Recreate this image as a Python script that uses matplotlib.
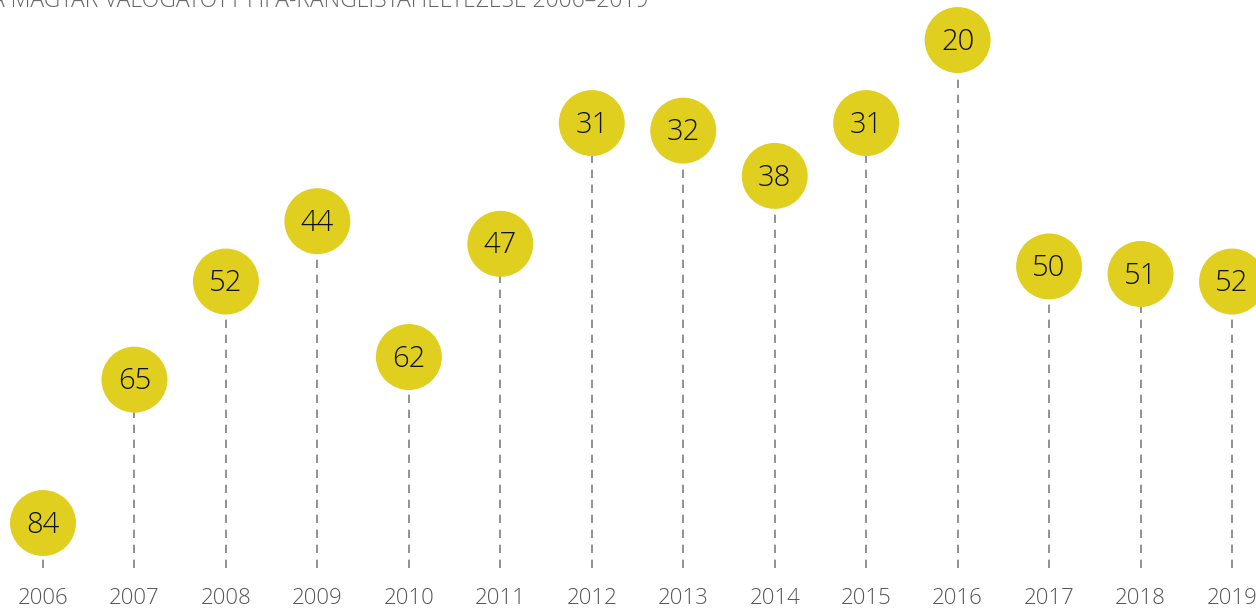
import numpy as np
import matplotlib.pyplot as plt
from matplotlib.transforms import blended_transform_factory

years = [2006, 2007, 2008, 2009, 2010, 2011, 2012, 2013, 2014, 2015, 2016, 2017, 2018, 2019]
ranks = [84, 65, 52, 44, 62, 47, 31, 32, 38, 31, 20, 50, 51, 52]
title = "A MAGYAR VÁLOGATOTT FIFA-RANGLISTAHELYEZÉSE 2006–2019"

plt.rcParams["font.family"] = ["Open Sans", "DejaVu Sans"]

fig = plt.figure(figsize=(12.56, 6.08), dpi=100)
ax = fig.add_axes([0, 0, 1, 1])
ax.set_xlim(2005.53, 2019.262)
ax.set_ylim(95.26, 14.69)
ax.axis("off")

yellow = "#E0CF1F"
for x, r in zip(years, ranks):
    ax.plot([x, x], [90, r], color="#7f7f7f", lw=1.2, ls=(0, (5, 4)), zorder=1)
ax.scatter(years, ranks, s=2256, color=yellow, edgecolors="none", zorder=2)
for x, r in zip(years, ranks):
    ax.text(x, r + 0.25, str(r), ha="center", va="center", fontsize=21,
            fontweight="light", color="#111111", zorder=3)

trans = blended_transform_factory(ax.transData, ax.transAxes)
for x in years:
    ax.text(x, 1 - 598 / 608, str(x), transform=trans, ha="center", va="center",
            fontsize=16, fontweight="light", color="#555555")

fig.text(-9 / 1256, 1 - 7 / 608, title, ha="left", va="baseline", fontsize=16.5,
         fontweight="light", color="#666666")

fig.savefig("out.png", dpi=100)
